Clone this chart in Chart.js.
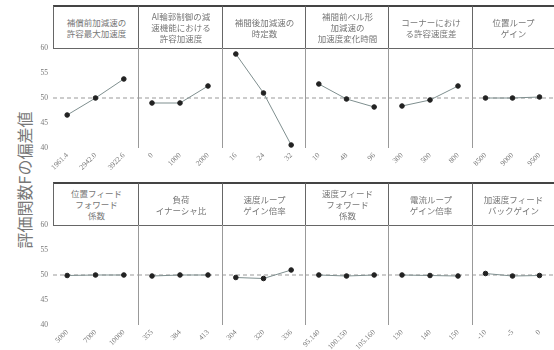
<!DOCTYPE html>
<html><head><meta charset="utf-8">
<script src="https://cdn.jsdelivr.net/npm/chart.js@4"></script>
<style>
html,body{margin:0;padding:0;background:#fff;}
#wrap{position:relative;width:554px;height:350px;overflow:hidden;background:#fff;}
canvas{position:absolute;}
.hdr{position:absolute;box-sizing:border-box;border-left:1px solid #666;border-bottom:1px solid #666;border-top:2px solid #444;
 display:flex;align-items:center;justify-content:center;text-align:center;font-family:"Noto Sans CJK JP";font-size:8.5px;line-height:11px;color:#777;}
#ytitle{position:absolute;left:24px;top:180px;transform:translate(-50%,-50%) rotate(-90deg);white-space:nowrap;
 font-family:"Noto Sans CJK JP";font-size:16px;color:#777;}
</style></head><body>
<div id="wrap"><div id="ytitle">評価関数Fの偏差値</div></div>
<script>
const titles = [
 "補償前加減速の<br>許容最大加速度","AI輪郭制御の減<br>速機能における<br>許容加速度","補間後加減速の<br>時定数",
 "補間前ベル形<br>加減速の<br>加速度変化時間","コーナーにおけ<br>る許容速度差","位置ループ<br>ゲイン",
 "位置フィード<br>フォワード<br>係数","負荷<br>イナーシャ比","速度ループ<br>ゲイン倍率",
 "速度フィード<br>フォワード<br>係数","電流ループ<br>ゲイン倍率","加速度フィード<br>バックゲイン"];
const xLabels = [
 ["1961.4","2942.0","3922.6"],["0","1000","2000"],["16","24","32"],
 ["10","48","96"],["300","500","800"],["8500","9000","9500"],
 ["5000","7000","10000"],["355","384","413"],["304","320","336"],
 ["95.140","100.150","105.160"],["130","140","150"],["-10","-5","0"]];
const values = [
 [46.6,50.0,53.8],[49.0,49.0,52.4],[58.8,51.0,40.6],
 [52.8,49.8,48.2],[48.4,49.6,52.4],[50.0,50.0,50.2],
 [49.9,50.0,50.0],[49.8,50.0,50.0],[49.5,49.3,51.0],
 [50.0,49.8,50.0],[50.0,49.9,49.8],[50.3,49.8,49.9]];
const yTicks = [40,45,50,55,60];
const refValue = 50;

const colLeft = [53,138,222,305,388,472,553];
const hdrTop = [5,182], plotTop = [48,225], plotH = 100, xAxisH = 28;
const PAD = 20;
const wrap = document.getElementById('wrap');

const refPlugin = {
 id:'ref',
 beforeDatasetsDraw(chart, a, opts){
  const {ctx, chartArea:ca, scales:{y}} = chart;
  ctx.save();
  if(opts.sep){
   ctx.strokeStyle='#999';ctx.lineWidth=1;
   ctx.beginPath();ctx.moveTo(Math.round(ca.left)+0.5,ca.top);ctx.lineTo(Math.round(ca.left)+0.5,ca.bottom);ctx.stroke();
  }
  const py = y.getPixelForValue(refValue);
  ctx.strokeStyle='#999';ctx.setLineDash([4,3]);ctx.lineWidth=1;
  ctx.beginPath();ctx.moveTo(ca.left,py);ctx.lineTo(ca.right,py);ctx.stroke();
  ctx.restore();
 }
};

for(let i=0;i<12;i++){
 const row = Math.floor(i/6), col = i%6;
 const l = colLeft[col], w = colLeft[col+1]-l;
 const h = document.createElement('div');
 h.className='hdr';
 h.style.left=l+'px';h.style.top=hdrTop[row]+'px';h.style.width=(w+1)+'px';
 h.style.height=(plotTop[row]-hdrTop[row]+1)+'px';
 h.innerHTML=titles[i];
 wrap.appendChild(h);

 const first = col===0;
 const yW = first?30:0;
 const cv = document.createElement('canvas');
 const cw = w + PAD*2 + yW;
 const topPad = 8;
 cv.style.left=(l-PAD-yW)+'px'; cv.style.top=(plotTop[row]-topPad)+'px';
 cv.width=cw; cv.height=plotH+xAxisH+topPad;
 cv.style.width=cw+'px'; cv.style.height=(plotH+xAxisH+topPad)+'px';
 wrap.appendChild(cv);
 new Chart(cv,{
  type:'line',
  data:{labels:xLabels[i],datasets:[{data:values[i],borderColor:'#7f8f8f',borderWidth:1,
   pointRadius:2.3,pointBackgroundColor:'#222',pointBorderColor:'#222',tension:0}]},
  options:{
   responsive:false,animation:false,
   layout:{autoPadding:false,padding:{left:PAD,right:PAD,top:topPad,bottom:0}},
   plugins:{legend:{display:false},tooltip:{enabled:false},ref:{sep:!first}},
   scales:{
    x:{offset:true,grid:{display:false,drawTicks:false},border:{display:false},
     afterFit(s){s.height=xAxisH;},
     ticks:{minRotation:45,maxRotation:45,padding:3,color:'#777',font:{family:'Liberation Serif',size:7.5}}},
    y:{display:first,min:40,max:60,afterFit(s){s.width=yW;},
     afterBuildTicks(s){s.ticks=yTicks.map(v=>({value:v}));},
     grid:{display:false,drawTicks:true,tickLength:3,tickColor:'#999'},border:{display:false},
     ticks:{padding:2,color:'#777',font:{family:'Liberation Serif',size:7.5}}}
   }
  },
  plugins:[refPlugin]
 });
}
</script></body></html>
